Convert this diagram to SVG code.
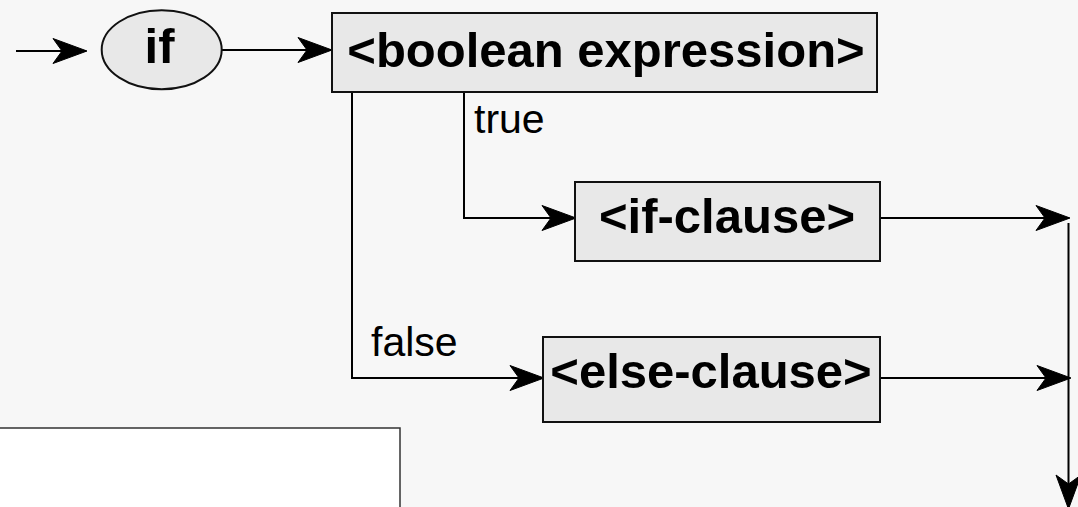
<svg xmlns="http://www.w3.org/2000/svg" width="1078" height="507" viewBox="0 0 1078 507">
  <style>
    .node { fill: #e8e8e8; stroke: #111; stroke-width: 2; }
    .bold { font-family: "Liberation Sans", Arial, sans-serif; font-weight: bold; font-size: 49px; fill: #000; text-anchor: middle; }
    .lbl { font-family: "Liberation Sans", Arial, sans-serif; font-size: 41px; fill: #000; }
    .conn { fill: none; stroke: #000; stroke-width: 2; }
  </style>
  <defs>
    <marker id="arr" markerUnits="userSpaceOnUse" markerWidth="38" markerHeight="30" viewBox="-35 -15 38 30" refX="0" refY="0" orient="auto">
      <path d="M1,0 L-33,-12.5 L-24,0 L-33,12.5 Z" fill="#000" stroke="#000" stroke-width="1" stroke-linejoin="miter"/>
    </marker>
  </defs>
  <rect x="0" y="0" width="1078" height="507" fill="#f7f7f7"/>
  <rect x="-2" y="428" width="402" height="82" fill="#fff" stroke="#333" stroke-width="1.5"/>

  <g id="connectors">
    <path class="conn" d="M16,51 H86" marker-end="url(#arr)"/>
    <path class="conn" d="M222,50 H331" marker-end="url(#arr)"/>
    <path class="conn" d="M464,92 V218 H575" marker-end="url(#arr)"/>
    <path class="conn" d="M352,89 V378 H543" marker-end="url(#arr)"/>
    <path class="conn" d="M880,218 H1069" marker-end="url(#arr)"/>
    <path class="conn" d="M880,378 H1070" marker-end="url(#arr)"/>
    <path class="conn" d="M1068.5,223 V508" marker-end="url(#arr)"/>
    <text class="lbl" x="474" y="133">true</text>
    <text class="lbl" x="371" y="356">false</text>
  </g>

  <g id="node-if">
    <ellipse class="node" cx="161.7" cy="49.7" rx="60" ry="39.5"/>
    <text class="bold" x="159.5" y="63">if</text>
  </g>
  <g id="node-boolean">
    <rect class="node" x="332" y="13" width="545" height="79"/>
    <text class="bold" x="606" y="67">&lt;boolean expression&gt;</text>
  </g>
  <g id="node-if-clause">
    <rect class="node" x="575" y="182" width="305" height="79"/>
    <text class="bold" x="727" y="233">&lt;if-clause&gt;</text>
  </g>
  <g id="node-else-clause">
    <rect class="node" x="543" y="337" width="337" height="85"/>
    <text class="bold" x="711" y="388">&lt;else-clause&gt;</text>
  </g>
</svg>
